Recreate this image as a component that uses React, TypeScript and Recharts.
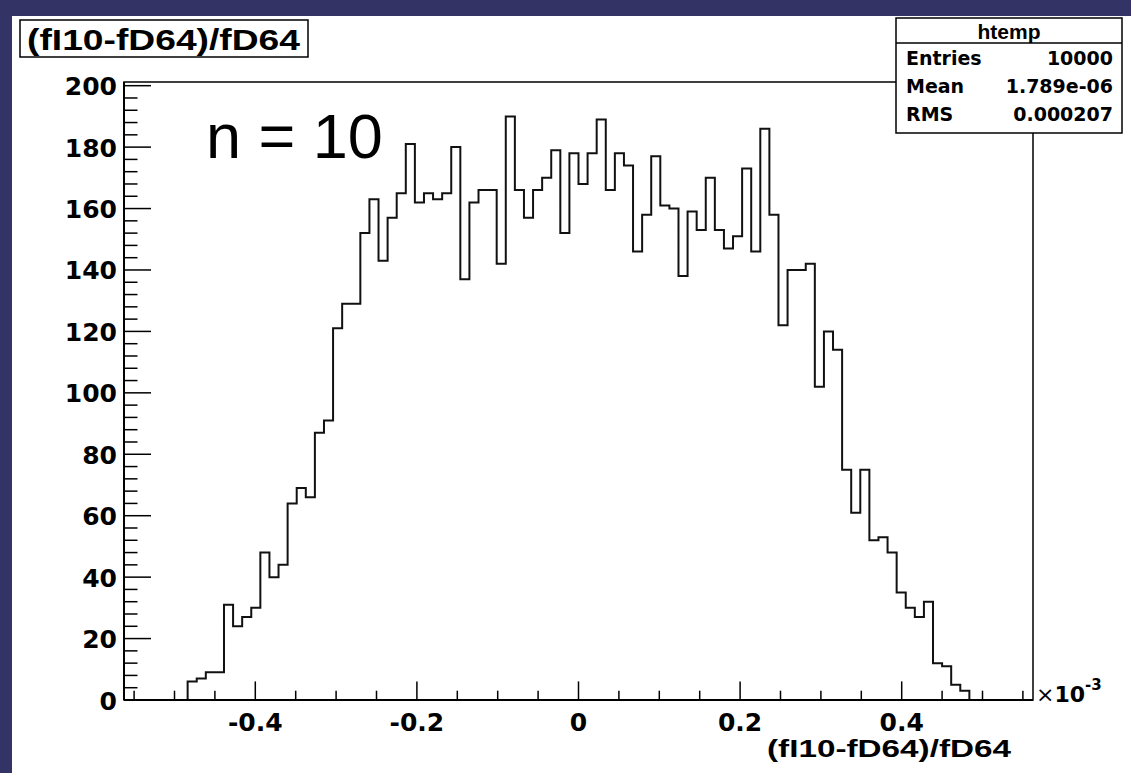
import { LineChart, Line, XAxis, YAxis, ReferenceArea } from 'recharts'

// histogram binning (units of 1e-3)
const nBins = 100
const xMin = -0.5625
const xMax = 0.5625
const yMax = 201.2

// entries per bin
const binCounts = [
  0, 0, 0, 0, 0, 0, 0, 6, 7, 9,
  9, 31, 24, 27, 30, 48, 40, 44, 64, 69,
  66, 87, 91, 121, 129, 129, 152, 163, 143, 157,
  165, 181, 162, 165, 163, 165, 180, 137, 162, 166,
  166, 142, 190, 166, 157, 166, 170, 179, 152, 178,
  168, 178, 189, 166, 178, 174, 146, 158, 177, 161,
  160, 138, 159, 153, 170, 153, 147, 151, 173, 146,
  186, 158, 122, 140, 140, 142, 102, 120, 114, 75,
  61, 75, 52, 53, 48, 35, 30, 27, 32, 12,
  11, 5, 3, 0, 0, 0, 0, 0, 0, 0,
]

const xMajorTicks = [-0.4, -0.2, 0, 0.2, 0.4]
const xTickLabels = ['-0.4', '-0.2', '0', '0.2', '0.4']
const yMajorTicks = [0, 20, 40, 60, 80, 100, 120, 140, 160, 180, 200]

const statsRows = [
  { name: 'Entries', value: '10000' },
  { name: 'Mean', value: '1.789e-06' },
  { name: 'RMS', value: '0.000207' },
]

const binWidth = (xMax - xMin) / nBins
const histData = binCounts
  .map((c, i) => ({ x: xMin + i * binWidth, count: c }))
  .concat([{ x: xMax, count: 0 }])

// minor ticks every 0.05 on x, every 4 on y
const xTicks = Array.from({ length: 23 }, (_, i) => Math.round((-0.55 + i * 0.05) * 100) / 100)
const yTicks = Array.from({ length: 51 }, (_, i) => i * 4)

const tickFont = '"DejaVu Sans", sans-serif'
const titleFont = '"Liberation Sans", Arial, sans-serif'

function XTick(props: any) {
  const { x, y, payload } = props
  const idx = xMajorTicks.findIndex((t) => Math.abs(t - payload.value) < 1e-6)
  const major = idx >= 0
  return (
    <g>
      <line x1={x} x2={x} y1={y} y2={y - (major ? 18.6 : 9.3)} stroke="#000" strokeWidth={1.5} />
      {major && (
        <text x={x} y={y + 22} textAnchor="middle" dominantBaseline="central"
          fontFamily={tickFont} fontWeight="bold" fontSize={25} fill="#000">
          {xTickLabels[idx]}
        </text>
      )}
    </g>
  )
}

function YTick(props: any) {
  const { x, y, payload } = props
  const major = yMajorTicks.includes(payload.value)
  return (
    <g>
      <line x1={x} x2={x + (major ? 27 : 13.5)} y1={y} y2={y} stroke="#000" strokeWidth={1.5} />
      {major && (
        <text x={x - 7} y={y + 1} textAnchor="end" dominantBaseline="central"
          fontFamily={tickFont} fontWeight="bold" fontSize={25} fill="#000">
          {payload.value}
        </text>
      )}
    </g>
  )
}

export default function App() {
  return (
    <div style={{ position: 'absolute', left: 0, top: 0, width: 1131, height: 773, background: '#333366', overflow: 'hidden' }}>
      <div style={{ position: 'absolute', left: 12, top: 16, width: 1119, height: 757, background: '#fff' }} />
      <div style={{ position: 'absolute', left: 0, top: 0 }}>
        <LineChart width={1131} height={773} data={histData}
          margin={{ top: 82, right: 98, bottom: 23, left: 64 }}>
          <XAxis dataKey="x" type="number" domain={[xMin, xMax]} ticks={xTicks} interval={0}
            allowDataOverflow tickSize={0} tickMargin={0} tickLine={false} height={50}
            axisLine={{ stroke: '#000', strokeWidth: 2 }} tick={<XTick />} />
          <YAxis type="number" domain={[0, yMax]} ticks={yTicks} interval={0}
            allowDataOverflow tickSize={0} tickMargin={0} tickLine={false} width={60}
            axisLine={{ stroke: '#000', strokeWidth: 2 }} tick={<YTick />} />
          <ReferenceArea x1={xMin} x2={xMax} y1={0} y2={yMax} fill="none" stroke="#000" strokeWidth={1.5} />
          <Line type="stepAfter" dataKey="count" stroke="#111" strokeWidth={2} dot={false}
            activeDot={false} isAnimationActive={false} />
        </LineChart>
      </div>
      <svg width={1131} height={773} style={{ position: 'absolute', left: 0, top: 0, pointerEvents: 'none' }}>
        {/* title box */}
        <rect x={20} y={20} width={288} height={37} fill="#fff" stroke="#000" strokeWidth={1.5} />
        <text x={27} y={39} dominantBaseline="central" fontFamily={titleFont}
          fontWeight="bold" fontSize={30} textLength={273} lengthAdjust="spacingAndGlyphs">
          (fI10-fD64)/fD64
        </text>
        {/* stats box */}
        <rect x={896} y={18} width={226} height={115} fill="#fff" stroke="#000" strokeWidth={1.5} />
        <line x1={896} x2={1122} y1={43} y2={43} stroke="#000" strokeWidth={1.5} />
        <text x={1009} y={31} textAnchor="middle" dominantBaseline="central"
          fontFamily={titleFont} fontWeight="bold" fontSize={21}>
          htemp
        </text>
        {statsRows.map((r, i) => (
          <g key={r.name}>
            <text x={906} y={58 + i * 28} dominantBaseline="central" fontFamily={tickFont}
              fontWeight="bold" fontSize={19}>{r.name}</text>
            <text x={1113} y={58 + i * 28} textAnchor="end" dominantBaseline="central" fontFamily={tickFont}
              fontWeight="bold" fontSize={19}>{r.value}</text>
          </g>
        ))}
        {/* annotation */}
        <text x={206} y={158} fontFamily={titleFont} fontSize={63}>n = 10</text>
        {/* x axis title and exponent */}
        <text x={1011} y={748} textAnchor="end" dominantBaseline="central"
          fontFamily={titleFont} fontWeight="bold" fontSize={24}
          textLength={244} lengthAdjust="spacingAndGlyphs">
          (fI10-fD64)/fD64
        </text>
        <text x={1036} y={694} dominantBaseline="central" fontFamily={tickFont} fontWeight="bold" fontSize={22}>
          <tspan fontWeight="normal">×</tspan>10
          <tspan dy={-9} fontSize={15}>-3</tspan>
        </text>
      </svg>
    </div>
  )
}
